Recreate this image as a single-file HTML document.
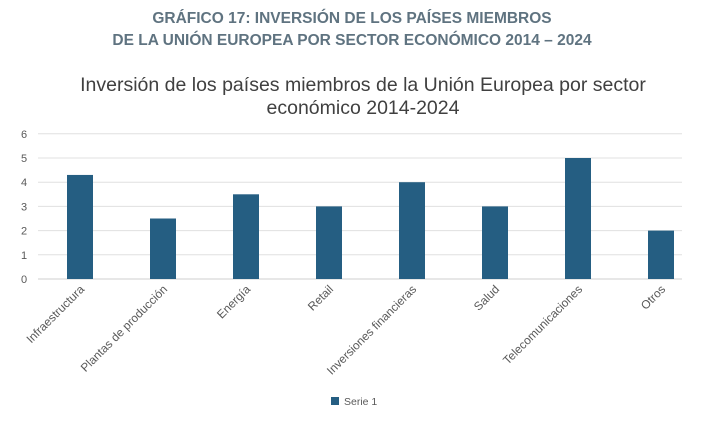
<!DOCTYPE html>
<html><head><meta charset="utf-8"><style>
body{margin:0;background:#fff;width:711px;height:422px;overflow:hidden;font-family:"Liberation Sans",sans-serif}
</style></head><body>
<svg width="711" height="422" xmlns="http://www.w3.org/2000/svg">
<text x="352" y="23" text-anchor="middle" font-size="15.5" font-weight="bold" fill="#5f7380">GRÁFICO 17: INVERSIÓN DE LOS PAÍSES MIEMBROS</text>
<text x="352" y="45" text-anchor="middle" font-size="15.5" font-weight="bold" fill="#5f7380">DE LA UNIÓN EUROPEA POR SECTOR ECONÓMICO 2014 – 2024</text>
<text x="363" y="91" text-anchor="middle" font-size="19.5" fill="#404040">Inversión de los países miembros de la Unión Europea por sector</text>
<text x="363" y="114" text-anchor="middle" font-size="19.5" fill="#404040">económico 2014-2024</text>
<g id="grid"></g><g id="bars"></g><g id="labels"></g>
<rect x="331" y="397" width="8" height="8" fill="#255e82"/>
<text x="344" y="405" font-size="10.5" fill="#595959">Serie 1</text>
</svg>
<script>
const categories=["Infraestructura","Plantas de producción","Energía","Retail","Inversiones financieras","Salud","Telecomunicaciones","Otros"];
const values=[4.3,2.5,3.5,3,4,3,5,2];
const yTicks=[0,1,2,3,4,5,6];
const NS="http://www.w3.org/2000/svg";
const y=v=>279-v*24.2;
const x=i=>80+i*83;
const grid=document.getElementById('grid'),bars=document.getElementById('bars'),labels=document.getElementById('labels');
function mk(tag,a,p){const e=document.createElementNS(NS,tag);for(const k in a)e.setAttribute(k,a[k]);p.appendChild(e);return e;}
yTicks.forEach(t=>{
 const l=mk('line',{x1:38,x2:682,y1:y(t),y2:y(t),stroke:t===0?'#cfcfcf':'#e0e0e0','stroke-width':1},grid);
 
 
 const tx=mk('text',{x:24,y:y(t)+4,'text-anchor':'middle','font-size':11,fill:'#595959'},grid);
 tx.textContent=t;
 
 
});
values.forEach((v,i)=>{
 const r=mk('rect',{x:x(i)-13,y:y(v),width:26,height:y(0)-y(v),fill:'#255e82'},bars);
 
 
 const t=mk('text',{x:0,y:0,'text-anchor':'end','font-size':11.8,fill:'#595959',transform:`translate(${x(i)+5},${290}) rotate(-45)`},labels);
 t.textContent=categories[i];
 
 
});
</script>
</body></html>
